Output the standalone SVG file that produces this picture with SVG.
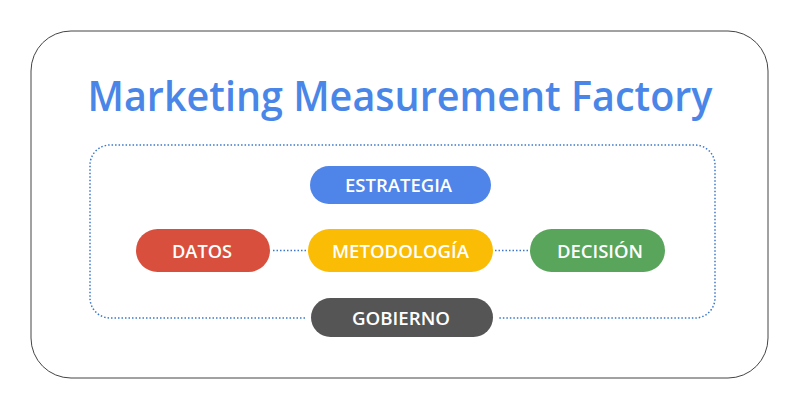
<svg xmlns="http://www.w3.org/2000/svg" width="800" height="410" viewBox="0 0 800 410">
<style>
.pill-text{font-family:"Open Sans","Liberation Sans",sans-serif;font-size:18px;font-weight:600;fill:#ffffff;text-anchor:middle;dominant-baseline:central}
.dot{fill:none;stroke:#3b78c9;stroke-width:1.5;stroke-dasharray:1.5 2}
</style>
<rect x="0" y="0" width="800" height="410" fill="#ffffff"/>
<rect id="frame" x="31" y="31" width="737" height="347" rx="40" ry="40" fill="#ffffff" stroke="#444444" stroke-width="1"/>
<text id="title" x="400" y="111" font-family="'Open Sans','Liberation Sans',sans-serif" font-size="41" font-weight="600" fill="#4a86e8" text-anchor="middle" textLength="625" lengthAdjust="spacingAndGlyphs">Marketing Measurement Factory</text>
<g id="connectors">
<path class="dot" d="M305,318 H110 A20,20 0 0 1 90,298 V165 A20,20 0 0 1 110,145 H695 A20,20 0 0 1 715,165 V298 A20,20 0 0 1 695,318 H498"/>
<line class="dot" x1="273" y1="250.5" x2="306" y2="250.5"/>
<line class="dot" x1="495" y1="250.5" x2="528" y2="250.5"/>
</g>
<g id="estrategia">
<rect x="310" y="166" width="181" height="38" rx="19" fill="#4f84e8"/>
<text class="pill-text" x="398.5" y="185" textLength="107" lengthAdjust="spacingAndGlyphs">ESTRATEGIA</text>
</g>
<g id="datos">
<rect x="136" y="229" width="134" height="43" rx="21.5" fill="#d94f3e"/>
<text class="pill-text" x="202" y="250.5" textLength="60" lengthAdjust="spacingAndGlyphs">DATOS</text>
</g>
<g id="metodologia">
<rect x="308" y="229" width="185" height="43" rx="21.5" fill="#fbbc05"/>
<text class="pill-text" x="400.5" y="250.5" textLength="137" lengthAdjust="spacingAndGlyphs">METODOLOGÍA</text>
</g>
<g id="decision">
<rect x="530" y="229" width="135" height="43" rx="21.5" fill="#58a55b"/>
<text class="pill-text" x="600" y="250.5" textLength="86" lengthAdjust="spacingAndGlyphs">DECISIÓN</text>
</g>
<g id="gobierno">
<rect x="311" y="298" width="182" height="39" rx="19.5" fill="#555555"/>
<text class="pill-text" x="401" y="317.5" textLength="98" lengthAdjust="spacingAndGlyphs">GOBIERNO</text>
</g>
</svg>
